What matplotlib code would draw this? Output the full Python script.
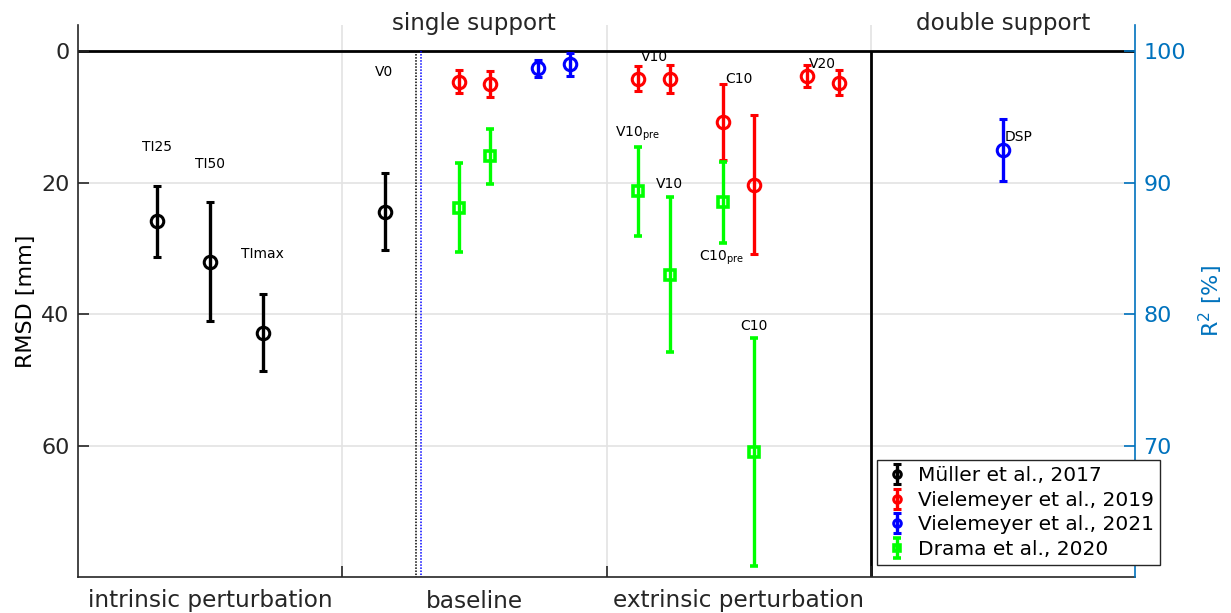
import matplotlib
matplotlib.use("Agg")
import matplotlib.pyplot as plt
from matplotlib.transforms import blended_transform_factory

plt.rcParams['font.family'] = ['DejaVu Sans']
plt.rcParams['mathtext.fontset'] = 'dejavusans'

# ---- data: position on the category axis, RMSD mean [mm], +/- spread [mm]
muller_x = [0.30, 0.50, 0.70, 1.16]
muller_y = [25.9, 32.0, 42.8, 24.4]
muller_err = [5.4, 9.0, 5.9, 5.85]

viel19_x = [1.44, 1.56, 2.12, 2.24, 2.44, 2.56, 2.76, 2.88]
viel19_y = [4.6, 5.0, 4.2, 4.2, 10.8, 20.3, 3.75, 4.8]
viel19_err = [1.8, 2.0, 1.9, 2.1, 5.8, 10.6, 1.65, 1.9]

viel21_x = [1.74, 1.86, 3.50]
viel21_y = [2.6, 2.0, 15.0]
viel21_err = [1.3, 1.7, 4.7]

drama_x = [1.44, 1.56, 2.12, 2.24, 2.44, 2.56]
drama_y = [23.8, 16.0, 21.3, 34.0, 23.0, 61.0]
drama_err = [6.8, 4.2, 6.8, 11.8, 6.2, 17.3]

series_names = ["Müller et al., 2017", "Vielemeyer et al., 2019",
                "Vielemeyer et al., 2021", "Drama et al., 2020"]

category_labels = ["intrinsic perturbation", "baseline", "extrinsic perturbation"]
phase_labels = ["single support", "double support"]

# condition annotations: text, x, RMSD
condition_text = ["TI25", "TI50", "TImax", "V0", "V10", "C10", "V20",
                  r"V10$_{\mathrm{pre}}$", "V10", r"C10$_{\mathrm{pre}}$", "C10", "DSP"]
condition_x = [0.243, 0.443, 0.618, 1.124, 2.13, 2.449, 2.766,
               2.032, 2.186, 2.35, 2.506, 3.505]
condition_y = [14.6, 17.2, 30.9, 3.1, 0.9, 4.15, 2.0,
               12.6, 20.2, 31.5, 41.8, 13.0]

MATLAB_BLUE = '#0072BD'
DARK = '#262626'
GRID = '#e3e3e3'

fig = plt.figure(figsize=(12.31, 6.13), dpi=100)
ax = fig.add_axes([78 / 1231, 1 - 577 / 613, (1135 - 78) / 1231, (577 - 25) / 613])

# grid and reference lines
for gx in [1, 2, 3]:
    ax.axvline(gx, color=GRID, lw=1.2, zorder=0)
for gy in [20, 40, 60]:
    ax.axhline(gy, color=GRID, lw=1.2, zorder=0)
ax.axhline(0, color='k', lw=2, zorder=1)
ax.vlines(3, 0, 80, color='k', lw=2, zorder=1)
ax.vlines(1.28, 0, 80, color='k', lw=1.1, linestyles=(0, (1, 1)), zorder=1)
ax.vlines(1.297, 0, 80, color='b', lw=1.1, linestyles=(0, (1, 1)), zorder=1)

eb_kw = dict(linestyle='none', elinewidth=2.4, capsize=2.6, capthick=2.4,
             markerfacecolor='none', zorder=3)
h1 = ax.errorbar(muller_x, muller_y, yerr=muller_err, fmt='o', color='k',
                 markersize=9, markeredgewidth=2.2, label=series_names[0], **eb_kw)
h2 = ax.errorbar(viel19_x, viel19_y, yerr=viel19_err, fmt='o', color='#ff0000',
                 markersize=9, markeredgewidth=2.2, label=series_names[1], **eb_kw)
h3 = ax.errorbar(viel21_x, viel21_y, yerr=viel21_err, fmt='o', color='#0000ff',
                 markersize=9, markeredgewidth=2.2, label=series_names[2], **eb_kw)
h4 = ax.errorbar(drama_x, drama_y, yerr=drama_err, fmt='s', color='#00ff00',
                 markersize=6.5, markeredgewidth=2.6, label=series_names[3], **eb_kw)

for t, x, y in zip(condition_text, condition_x, condition_y):
    ax.text(x, y, t, fontsize=10, ha='left', va='center', color='k', zorder=4)

ax.set_xlim(0, 4)
ax.set_ylim(80, -4)
ax.set_yticks([0, 20, 40, 60])
ax.set_xticks([0.5, 1.5, 2.5])
ax.set_xticklabels(category_labels)
ax.set_xticks([1, 2, 3], minor=True)
ax.tick_params(axis='x', which='major', length=0, pad=9, labelsize=16.7, labelcolor=DARK)
ax.tick_params(axis='x', which='minor', direction='in', length=8, width=1.2, color=DARK)
ax.tick_params(axis='y', direction='in', length=8, width=1.2, color=DARK,
               labelsize=16, labelcolor=DARK, pad=6)
ax.spines['top'].set_visible(False)
ax.spines['right'].set_visible(False)
for s in ['left', 'bottom']:
    ax.spines[s].set_color(DARK)
    ax.spines[s].set_linewidth(1.2)
ax.set_ylabel("RMSD [mm]", fontsize=16, color='k', labelpad=4)

# phase headings above the plot
trans = blended_transform_factory(ax.transData, ax.transAxes)
ax.text(1.5, 1.003, phase_labels[0], transform=trans, ha='center', va='center',
        fontsize=16.6, color=DARK)
ax.text(3.5, 1.003, phase_labels[1], transform=trans, ha='center', va='center',
        fontsize=16.6, color=DARK)

# right axis: R^2 in percent
ax2 = ax.twinx()
ax2.set_ylim(60, 102)
ax2.set_yticks([70, 80, 90, 100])
ax2.tick_params(axis='y', direction='in', length=8, width=1.2, color=MATLAB_BLUE,
                labelsize=16, labelcolor=MATLAB_BLUE, pad=6)
for s in ['top', 'left', 'bottom']:
    ax2.spines[s].set_visible(False)
ax2.spines['right'].set_color(MATLAB_BLUE)
ax2.spines['right'].set_linewidth(1.2)
ax2.set_ylabel(r"R$^2$ [%]", fontsize=16, color=MATLAB_BLUE, labelpad=8)

leg = ax2.legend(handles=[h1, h2, h3, h4], loc='upper left',
                 bbox_to_anchor=(877 / 1231, 1 - 460 / 613), bbox_transform=fig.transFigure,
                 borderaxespad=0, fontsize=14.5, frameon=True, fancybox=False,
                 framealpha=1, edgecolor=DARK, markerscale=0.6, handlelength=1.4,
                 handletextpad=0.35, labelspacing=0.28, borderpad=0.3)
leg.get_frame().set_linewidth(1.0)

fig.savefig("out.png", dpi=100)
